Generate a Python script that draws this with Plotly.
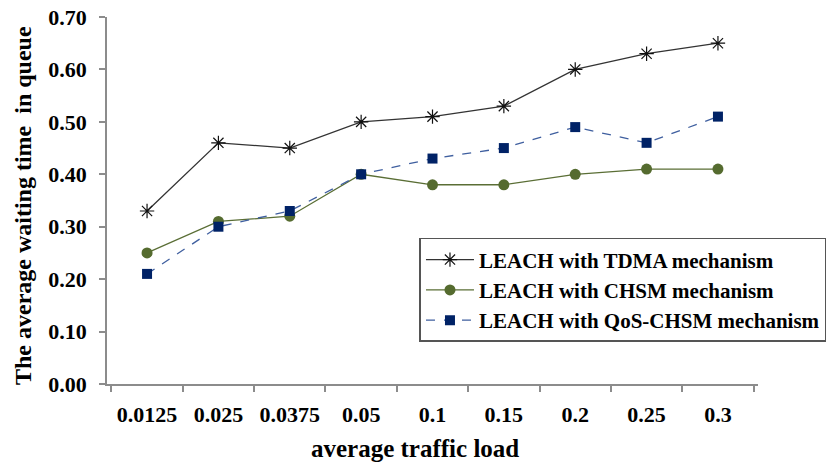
import plotly.graph_objects as go

categories = ["0.0125", "0.025", "0.0375", "0.05", "0.1", "0.15", "0.2", "0.25", "0.3"]
tdma = [0.33, 0.46, 0.45, 0.50, 0.51, 0.53, 0.60, 0.63, 0.65]
chsm = [0.25, 0.31, 0.32, 0.40, 0.38, 0.38, 0.40, 0.41, 0.41]
qos = [0.21, 0.30, 0.33, 0.40, 0.43, 0.45, 0.49, 0.46, 0.51]
names = ["LEACH with TDMA mechanism", "LEACH with CHSM mechanism", "LEACH with QoS-CHSM mechanism"]
x_title = "average traffic load"
y_title = "The average waiting time  in queue"

FONT = "Liberation Serif"

fig = go.Figure()
fig.add_trace(go.Scatter(x=categories, y=tdma, name=names[0], mode="lines+markers",
                         line=dict(color="#333333", width=1.3),
                         marker=dict(symbol="asterisk-open", size=12, color="#111111",
                                     line=dict(color="#111111", width=1.2))))
fig.add_trace(go.Scatter(x=categories, y=chsm, name=names[1], mode="lines+markers",
                         line=dict(color="#5a6e35", width=1.3),
                         marker=dict(symbol="circle", size=11, color="#556b2f")))
fig.add_trace(go.Scatter(x=categories, y=qos, name=names[2], mode="lines+markers",
                         line=dict(color="#3f5f9f", width=1.3, dash="dash"),
                         marker=dict(symbol="square", size=10, color="#002266")))

fig.update_layout(
    width=833, height=467,
    margin=dict(l=107, r=75, t=17, b=83, autoexpand=False),
    plot_bgcolor="white", paper_bgcolor="white",
    font=dict(family=FONT, size=22, color="black"),
    showlegend=True,
    legend=dict(x=0.48, y=0.398, xanchor="left", yanchor="top",
                bgcolor="white", bordercolor="#555555", borderwidth=1.5,
                font=dict(family=FONT, size=21, color="black", weight="bold"),
                itemwidth=48, tracegroupgap=0),
    annotations=[
        dict(text=y_title, xref="paper", yref="paper", x=-0.129, y=0.485,
             xanchor="center", yanchor="middle", textangle=-90, showarrow=False,
             font=dict(family=FONT, size=24, color="black", weight="bold")),
        dict(text=x_title, xref="paper", yref="paper", x=0.473, y=-0.177,
             xanchor="center", yanchor="middle", showarrow=False,
             font=dict(family=FONT, size=25, color="black", weight="bold")),
    ],
)
fig.update_xaxes(type="category", showline=True, linecolor="#8c8c8c", linewidth=1.5,
                 ticks="outside", tickson="boundaries", ticklen=6, tickcolor="#8c8c8c",
                 tickwidth=1.5, showgrid=False, zeroline=False, ticklabelstandoff=10,
                 tickangle=0, automargin=False,
                 tickfont=dict(family=FONT, size=22, color="black", weight="bold"))
fig.update_yaxes(range=[0, 0.7], dtick=0.1, tickformat=".2f", showline=True,
                 linecolor="#8c8c8c", linewidth=1.5, ticks="outside", ticklen=6,
                 tickcolor="#8c8c8c", tickwidth=1.5, showgrid=False, zeroline=False,
                 ticklabelstandoff=8, automargin=False,
                 tickfont=dict(family=FONT, size=22, color="black", weight="bold"))

fig.write_html("out.html")
